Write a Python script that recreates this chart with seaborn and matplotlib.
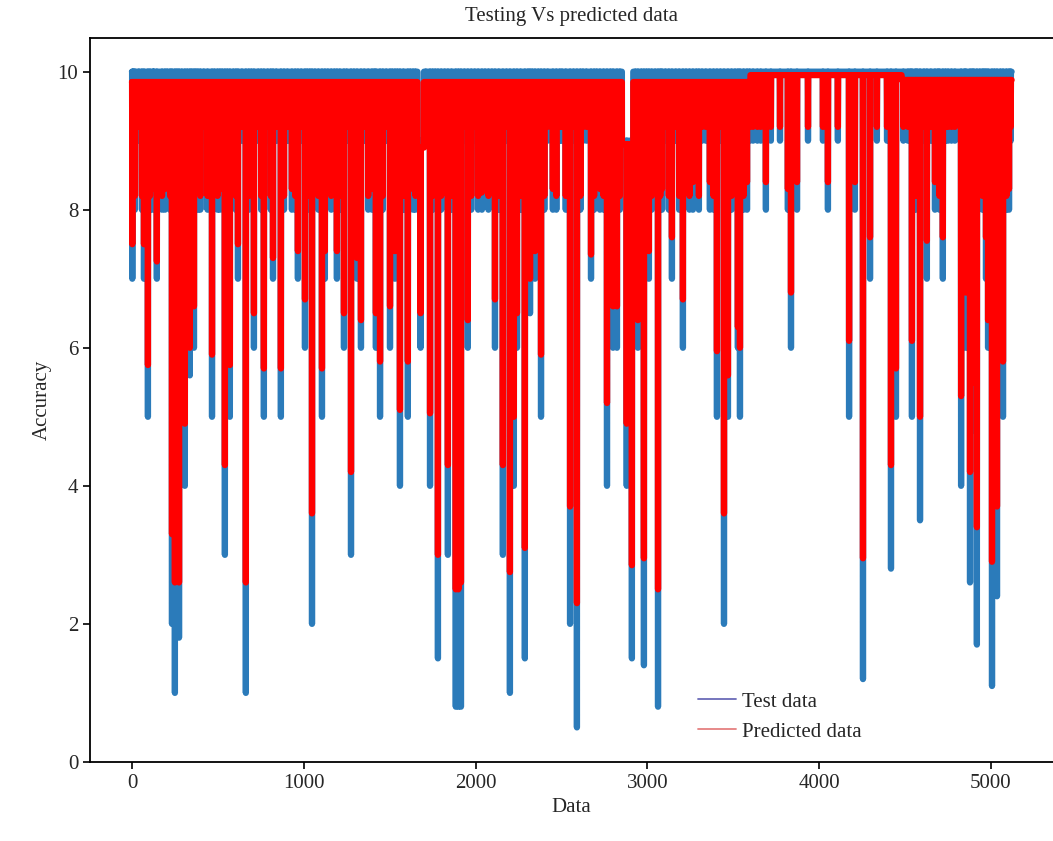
import numpy as np
import pandas as pd
import matplotlib
matplotlib.use("Agg")
import matplotlib.pyplot as plt
from matplotlib.lines import Line2D
import seaborn as sns

# ---- data -------------------------------------------------------------
# deep dips: index, test value at the dip, predicted value at the dip
deep_x = [2, 17, 70, 93, 122, 145, 192, 233, 250, 274, 308, 337, 361, 384, 466,
          512, 541, 570, 617, 663, 710, 768, 821, 867, 931, 966, 1007, 1048, 1106,
          1123, 1193, 1234, 1275, 1310, 1333, 1397, 1420, 1444, 1502, 1531, 1560,
          1606, 1636, 1680, 1735, 1781, 1839, 1885, 1900, 1915, 1955, 2037, 2113,
          2159, 2200, 2223, 2241, 2287, 2317, 2346, 2381, 2450, 2503, 2550, 2590,
          2625, 2672, 2724, 2765, 2800, 2823, 2880, 2910, 2945, 2980, 3009, 3062,
          3085, 3143, 3207, 3265, 3318, 3364, 3405, 3446, 3469, 3527, 3539, 3580,
          3615, 3690, 3719, 3772, 3818, 3836, 3871, 3935, 4022, 4051, 4109, 4174,
          4208, 4255, 4296, 4336, 4395, 4418, 4447, 4517, 4540, 4587, 4627, 4674,
          4720, 4750, 4826, 4854, 4878, 4900, 4918, 4971, 4983, 5006, 5035, 5070,
          5105]
deep_test = [7, 8, 7, 5, 8, 7, 8, 2, 1, 1.8, 4, 5.6, 6, 8, 5,
             8, 3, 5, 7, 1, 6, 5, 7, 5, 8, 7, 6, 2, 5,
             7, 7, 6, 3, 7, 6, 8, 6, 5, 6, 7, 4,
             5, 8, 6, 4, 1.5, 3, 0.8, 0.8, 0.8, 6, 8, 6,
             3, 1, 4, 6, 1.5, 6.5, 7, 5, 8, 9, 2, 0.5,
             9, 7, 8, 4, 6, 6, 4, 1.5, 6, 1.4, 7, 0.8,
             8, 7, 6, 8, 9, 8, 5, 2, 5, 6, 5, 8,
             9, 8, 9, 9, 8, 6, 8, 9, 9, 8, 9, 5,
             8, 1.2, 7, 9, 9, 2.8, 5, 9, 5, 3.5, 7, 8,
             7, 9, 4, 6, 2.6, 4.8, 1.7, 7, 6, 1.1, 2.4, 5,
             8]
deep_pred = [7.5, 8.2, 7.5, 5.75, 8.3, 7.25, 8.3, 3.3, 2.6, 2.6, 4.9, 6.0, 6.6, 8.3, 5.9,
             8.3, 4.3, 5.75, 7.5, 2.6, 6.5, 5.7, 7.3, 5.7, 8.3, 7.4, 6.7, 3.6, 5.7,
             7.4, 7.4, 6.5, 4.2, 7.3, 6.4, 8.3, 6.5, 5.8, 6.6, 7.4, 5.1,
             5.8, 8.3, 6.5, 5.05, 3.0, 4.3, 2.5, 2.5, 2.6, 6.4, 8.25, 6.7,
             4.3, 2.75, 5.0, 6.5, 3.1, 7.0, 7.4, 5.9, 8.3, 9.2, 3.7, 2.3,
             9.2, 7.35, 8.3, 5.2, 6.6, 6.6, 4.9, 2.85, 6.4, 2.95, 7.4, 2.5,
             8.3, 7.6, 6.7, 8.4, 9.2, 8.4, 5.95, 3.6, 5.6, 6.3, 6.0, 8.4,
             9.2, 8.4, 9.2, 9.2, 8.3, 6.8, 8.4, 9.2, 9.2, 8.4, 9.2, 6.1,
             8.4, 2.95, 7.6, 9.2, 9.2, 4.3, 5.7, 9.2, 6.1, 5.0, 7.55, 8.4,
             7.6, 9.2, 5.3, 6.8, 4.2, 5.5, 3.4, 7.6, 6.4, 2.9, 3.7, 5.8,
             8.3]

# dense oscillation down to 8 (test) / ~8.2 (predicted)
band8_x = [8, 58, 105, 175, 222, 290, 348, 398, 440, 498, 555, 605, 680, 752, 808,
           885, 950, 1020, 1085, 1160, 1210, 1292, 1375, 1460, 1515, 1580, 1650,
           1750, 1800, 1860, 1975, 2015, 2075, 2135, 2262, 2330, 2400, 2470, 2525,
           2610, 2690, 2745, 2840, 2965, 3025, 3075, 3125, 3185, 3245, 3300, 3385,
           3490, 3560, 4560, 4700, 4950, 5090]
band8_test = 8
band8_pred = 8.2

# shallower oscillation down to 9 (test) / ~9.2 (predicted)
band9_x = [40, 128, 205, 262, 322, 372, 418, 480, 525, 590, 640, 695, 735, 790, 840,
           905, 985, 1035, 1065, 1140, 1178, 1250, 1352, 1410, 1480, 1545, 1620,
           1710, 1765, 1820, 1935, 1995, 2055, 2095, 2180, 2305, 2365, 2420, 2490,
           2570, 2645, 2705, 2785, 2930, 2995, 3045, 3105, 3165, 3225, 3285, 3340,
           3425, 3510, 3595, 3640, 3660, 4490, 4530, 4570, 4610, 4650, 4690, 4735,
           4770, 4790, 4845, 4890, 4935, 4960, 5020, 5055, 5085, 5115]
band9_test = 9
band9_pred = 9.2

# resting levels between dips (segment start index, test level, predicted level)
seg_start = [0, 1662, 1700, 2852, 2918, 3600, 4480]
seg_test = [10, 9, 10, 9, 10, 10, 10]
seg_pred = [9.85, 8.9, 9.85, 8.95, 9.85, 9.95, 9.88]
last_index = 5120

# ---- build the two series ----------------------------------------------
def level(x, levels):
    i = int(np.searchsorted(seg_start, x, side="right")) - 1
    return levels[max(i, 0)]

dips = list(zip(deep_x, deep_test, deep_pred))
dips += [(x, band8_test, band8_pred) for x in band8_x]
dips += [(x, band9_test, band9_pred) for x in band9_x]
dips.sort(key=lambda d: d[0])
kept = []
for d in dips:
    if kept and d[0] - kept[-1][0] < 6:
        if d[1] < kept[-1][1]:
            kept[-1] = d
        continue
    kept.append(d)

pts = [(0.0, level(0, seg_test), level(0, seg_pred))]
for k in range(1, len(seg_start)):
    s = seg_start[k]
    pts.append((s - 0.3, seg_test[k - 1], seg_pred[k - 1]))
    pts.append((s, seg_test[k], seg_pred[k]))
for x, t, p in kept:
    pts.append((x - 1.2, level(x, seg_test), level(x, seg_pred)))
    pts.append((float(x), t, p))
    pts.append((x + 1.2, level(x, seg_test), level(x, seg_pred)))
pts.append((float(last_index), level(last_index, seg_test), level(last_index, seg_pred)))
pts.sort(key=lambda q: q[0])

xs = np.array([q[0] for q in pts])
ts = np.array([q[1] for q in pts])
ps = np.array([q[2] for q in pts])
n = len(xs)
df = pd.DataFrame({
    "Data": np.concatenate([xs, xs]),
    "Accuracy": np.concatenate([ts, ps]),
    "series": ["Test data"] * n + ["Predicted data"] * n,
})

# ---- plot ----------------------------------------------------------------
sns.set_theme(style="ticks")
plt.rcParams["font.family"] = ["Liberation Serif", "DejaVu Serif"]

fig, ax = plt.subplots(figsize=(10.53, 8.41), dpi=100)
fig.subplots_adjust(left=0.0855, right=1.0, top=0.955, bottom=0.094)

sns.lineplot(data=df, x="Data", y="Accuracy", hue="series",
             hue_order=["Test data", "Predicted data"],
             palette={"Test data": "#2b7bba", "Predicted data": "#ff0000"},
             estimator=None, sort=False, linewidth=4.5, legend=False, ax=ax)

ax.set_xlim(-244, 5361)
ax.set_ylim(0, 10.49)
ax.set_xticks([0, 1000, 2000, 3000, 4000, 5000])
ax.set_yticks([0, 2, 4, 6, 8, 10])
ax.tick_params(axis="both", labelsize=15, direction="out", length=5, width=1.2, color="black")
ax.set_xlabel("Data", fontsize=15)
ax.set_ylabel("Accuracy", fontsize=15)
ax.set_title("Testing Vs predicted data", fontsize=15, pad=12)
for name, sp in ax.spines.items():
    sp.set_color("black")
    sp.set_linewidth(1.3)
ax.spines["right"].set_visible(False)

handles = [Line2D([0], [0], color="#6a6ab8", lw=1.3),
           Line2D([0], [0], color="#e58080", lw=1.3)]
ax.legend(handles, ["Test data", "Predicted data"], loc="lower left",
          bbox_to_anchor=(0.612, 0.002), frameon=False, fontsize=15,
          handlelength=1.8, handletextpad=0.3, labelspacing=0.5)

fig.savefig("out.png", dpi=100)
